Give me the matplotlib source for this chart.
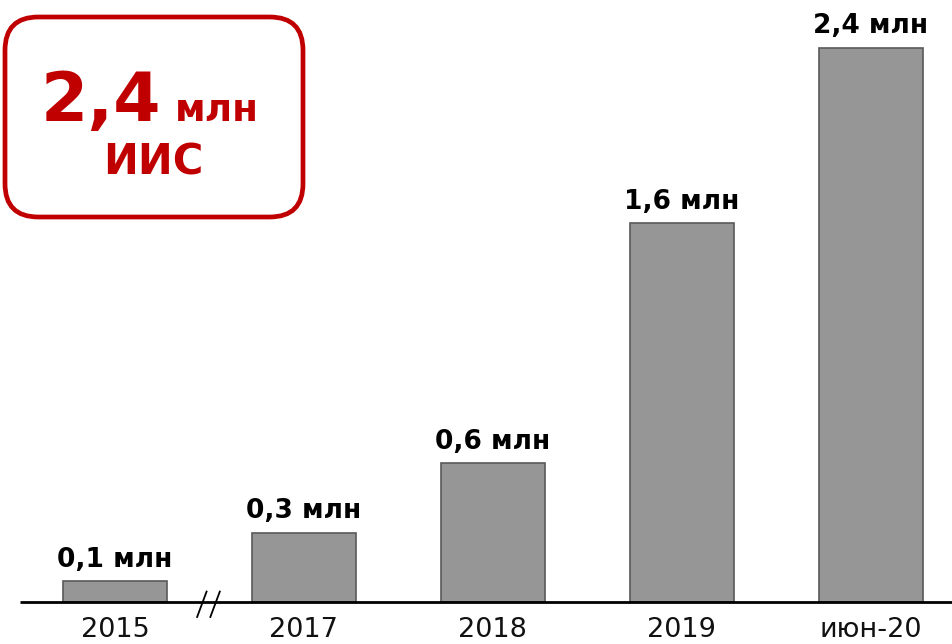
import matplotlib.pyplot as plt
from matplotlib.patches import FancyBboxPatch

# данные
categories = ["2015", "2017", "2018", "2019", "июн-20"]
values = [0.09, 0.30, 0.60, 1.64, 2.40]
value_labels = ["0,1 млн", "0,3 млн", "0,6 млн", "1,6 млн", "2,4 млн"]
total_value = "2,4"
total_unit = "млн"
total_caption = "ИИС"

red = "#C00000"
bar_color = "#969696"
edge_color = "#595959"

plt.rcParams['font.family'] = ['DejaVu Sans']

fig = plt.figure(figsize=(9.52, 6.44), dpi=100)
ax = fig.add_axes([0, 0, 1, 1])

x = list(range(len(categories)))
ax.bar(x, values, width=0.55, color=bar_color, edgecolor=edge_color, linewidth=1.2, zorder=2)

# базовая линия
ax.hlines(0, -0.5, 4.5, color="black", linewidth=2, zorder=3)

# разрыв оси между 2015 и 2017
for dx in (-0.04, 0.03):
    ax.plot([0.5 + dx - 0.025, 0.5 + dx + 0.025], [-0.065, 0.045], color="black", linewidth=1.3, zorder=4)

for xi, v, lab in zip(x, values, value_labels):
    ax.annotate(lab, (xi, v), xytext=(0, 6), textcoords="offset points",
                ha="center", va="bottom", fontsize=19, fontweight="bold", color="black")

for xi, cat in zip(x, categories):
    ax.text(xi, -0.122, cat, ha="center", va="center", fontsize=19.5, color="#111111")

ax.set_xlim(-0.608, 4.429)
ax.set_ylim(-0.182, 2.606)
ax.axis("off")

# рамка с итогом
box = FancyBboxPatch((5 / 952, 1 - 217 / 644), 298 / 952, 200 / 644,
                     boxstyle="round,pad=0,rounding_size=0.035",
                     transform=fig.transFigure, facecolor="white",
                     edgecolor=red, linewidth=3.4, mutation_aspect=952 / 644)
fig.patches.append(box)

fig.text(101 / 952, 1 - 121 / 644, total_value, ha="center", va="baseline",
         fontsize=49, fontweight="bold", color=red)
fig.text(217 / 952, 1 - 121 / 644, total_unit, ha="center", va="baseline",
         fontsize=27, fontweight="bold", color=red)
fig.text(153 / 952, 1 - 163 / 644, total_caption, ha="center", va="center",
         fontsize=30, fontweight="bold", color=red)

fig.savefig("out.png", dpi=100)
